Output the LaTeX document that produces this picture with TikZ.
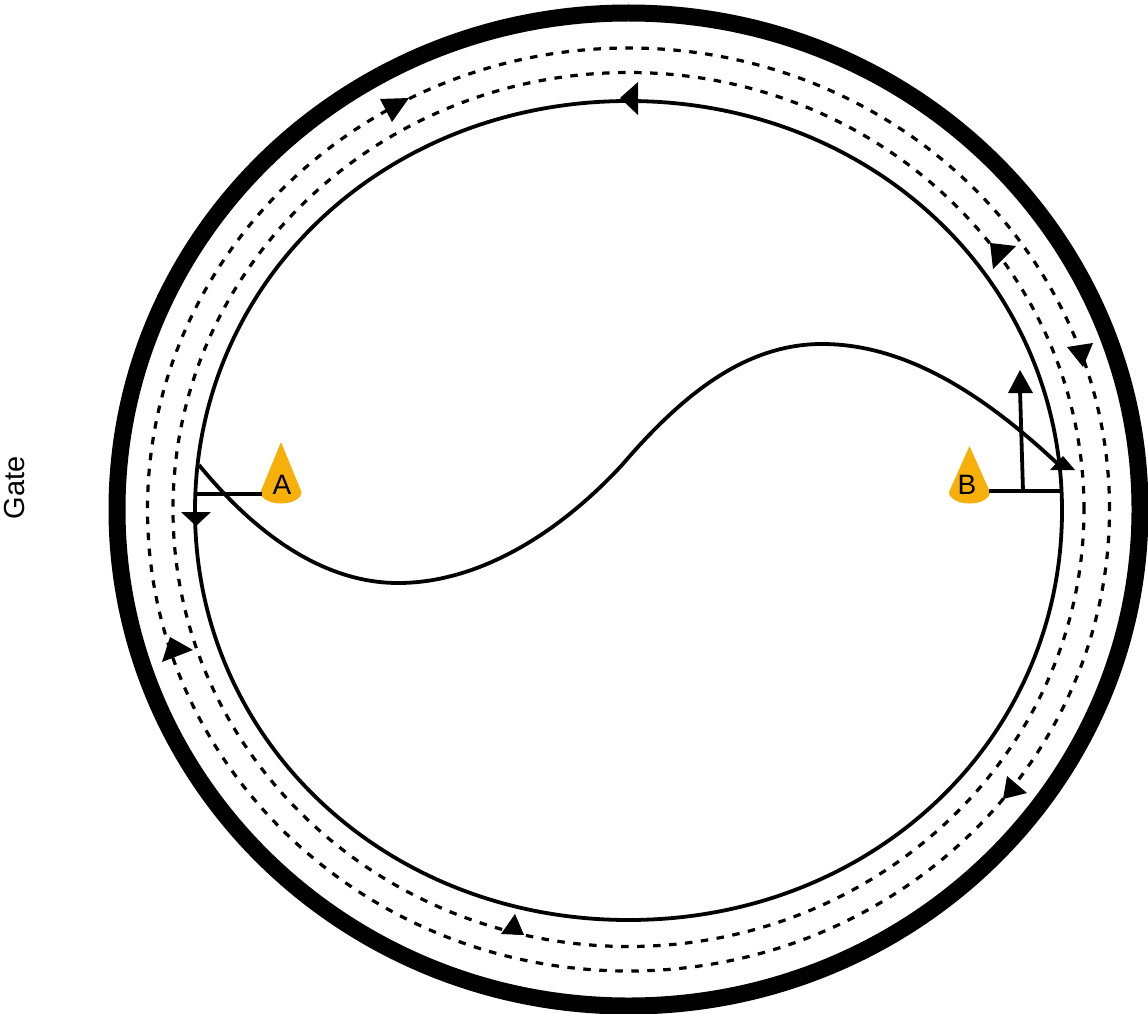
\documentclass[tikz,border=0pt]{standalone}
\usepackage{fontspec}
\setmainfont{Liberation Sans}
\definecolor{coneorange}{HTML}{F7AF0A}
\tikzset{
    ring/.style={line width=3.8pt},
    track/.style={line width=3.2pt, dash pattern=on 7.5pt off 8.5pt},
    tiplabel/.style={inner sep=0pt, font=\fontsize{28}{28}\selectfont},
}
\begin{document}
\begin{tikzpicture}[x=1pt, y=-1pt, line join=round]
    \useasboundingbox (0,0) rectangle (1148,1014);

    % パラメータの定義
    \pgfmathsetmacro{\RX}{433.5} % 横半径
    \pgfmathsetmacro{\RY}{409.5} % 縦半径
    \pgfmathsetmacro{\KX}{\RX*0.562}
    \pgfmathsetmacro{\KY}{\RY*0.562}

    % 外周と内側の楕円
    \coordinate (O) at (628.5,509.5);
    \draw [line width=17pt] (O) ellipse [x radius=511.5pt, y radius=496.5pt];
    \draw [track] (O) ellipse [x radius=481pt, y radius=461.5pt];
    \draw [track] (O) ellipse [x radius=455.5pt, y radius=437pt];
    \begin{scope}[shift={(628.5,510.5)}]
        \draw [ring] (\RX,0) .. controls (\RX,-\KY) and (\KX,-\RY) .. (0,-\RY)
            .. controls (-\KX,-\RY) and (-\RX,-\KY) .. (-\RX,0)
            .. controls (-\RX,\KY) and (-\KX,\RY) .. (0,\RY)
            .. controls (\KX,\RY) and (\RX,\KY) .. (\RX,0) -- cycle;
    \end{scope}

    % S字の曲線
    \draw [ring] (199,465) .. controls (262,542) and (330,583) .. (398,583)
        .. controls (480,583) and (560,532) .. (622,465)
        .. controls (682,395) and (745,344) .. (822,344)
        .. controls (910,344) and (990,400) .. (1060,466);

    % 三角錐
    \foreach \name/\x/\y/\top in {A/281/492/442, B/969.5/492/446} {
        \fill [coneorange] (\x-20.5,\y) -- (\x,\top) -- (\x+20.5,\y)
            arc [start angle=0, end angle=-180, x radius=20.5pt, y radius=11.5pt] -- cycle;
        \coordinate (cone\name) at (\x,\y);
    }
    \node [tiplabel] (labelA) at (282,485) {A};
    \node [tiplabel] (labelB) at (967,485) {B};

    % 接続線
    \coordinate (gateA) at (196,494);
    \coordinate (gateB) at (1062,491);
    \coordinate (baseB) at (1023,491);
    \coordinate (tipB) at (1020,390);
    \draw [ring] (gateA) -- ([xshift=-19pt]coneA |- gateA);
    \draw [ring] (gateB) -- ([xshift=19pt]coneB |- gateB);
    \draw [ring] (baseB) -- (tipB);

    % 矢じり
    \foreach \ax/\ay/\bx/\by/\cx/\cy in {
        638/82/638/115/620/98,
        380/99/409/98/392/122,
        990/243/1016/246/993/269,
        1067/347/1093/343/1083/367,
        515/914/501/934/524/935,
        170/637/193/650/162/662,
        1007/776/1027/793/1003/799,
        181/512/211/512/196/526,
        1050/470/1075/470/1063/456,
        1008/393/1033/393/1020/370}
        \fill (\ax,\ay) -- (\bx,\by) -- (\cx,\cy) -- cycle;

    \node [rotate=90, inner sep=0pt, font=\fontsize{29}{29}\selectfont] (gate) at (14.5,488) {Gate};
\end{tikzpicture}
\end{document}
